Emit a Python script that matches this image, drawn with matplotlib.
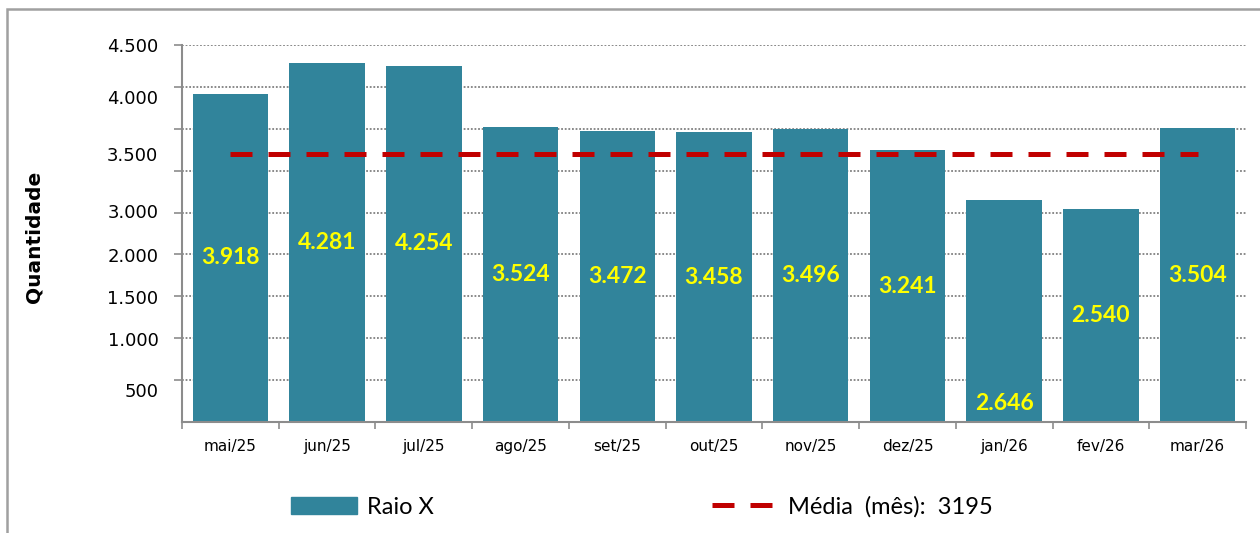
import matplotlib
matplotlib.use("Agg")
import matplotlib.pyplot as plt
from matplotlib.patches import Patch, Rectangle
from matplotlib.lines import Line2D

# ─── data ─────────────────────────────────────────────────────────────────────
months = ["mai/25", "jun/25", "jul/25", "ago/25", "set/25", "out/25",
          "nov/25", "dez/25", "jan/26", "fev/26", "mar/26"]
raio_x = [3918, 4281, 4254, 3524, 3472, 3458, 3496, 3241, 2646, 2540, 3504]
media = 3195

# y tick labels as they sit in the original (not aligned to the grid)
ytick_labels = ["500", "1.000", "1.500", "2.000", "3.000", "3.500", "4.000", "4.500"]
ytick_pos = [382, 991, 1492, 1993, 2519, 3199, 3879, 4500]
grid_vals = list(range(500, 4501, 500))

TEAL = "#31849B"
RED = "#C00000"
GRAY = "#8C8C8C"

fig = plt.figure(figsize=(12.6, 5.33), dpi=100)
ax = fig.add_axes([182/1260, 1 - 422/533, (1246-182)/1260, (422-45)/533])

x = range(len(months))
ax.bar(x, raio_x, width=0.78, color=TEAL, zorder=2)
ax.plot(x, [media]*len(months), color=RED, lw=3.6, ls=(0, (4.4, 3.2)), zorder=3)

# value labels, centred in bar (jan/26 sits at the base in the original)
label_override = {8: 215}
for i, v in enumerate(raio_x):
    yy = label_override.get(i, v / 2)
    ax.text(i, yy, f"{v:,}".replace(",", "."), ha="center", va="center",
            color="#FFFF00", fontsize=16.5, fontweight="bold", family="Lato", zorder=4)

ax.set_xlim(-0.5, len(months) - 0.5)
ax.set_ylim(0, 4500)

for g in grid_vals:
    ax.axhline(g, color="#808080", lw=1.3, ls=(0, (1, 1)), zorder=1)

ax.yaxis.remove_overlapping_locs = False
ax.set_yticks(grid_vals)
ax.set_yticklabels([])
ax.tick_params(axis="y", which="major", length=6, width=1.2, color=GRAY)
ax.set_yticks(ytick_pos, minor=True)
ax.set_yticklabels(ytick_labels, minor=True, fontsize=13)
ax.tick_params(axis="y", which="minor", length=0, pad=17)

ax.set_xticks(list(x))
ax.set_xticklabels(months, fontsize=11)
ax.tick_params(axis="x", which="major", length=0, pad=12)
ax.set_xticks([i - 0.5 for i in range(len(months) + 1)], minor=True)
ax.tick_params(axis="x", which="minor", length=5, width=1.2, color=GRAY)

for s in ["top", "right"]:
    ax.spines[s].set_visible(False)
for s in ["left", "bottom"]:
    ax.spines[s].set_color(GRAY)
    ax.spines[s].set_linewidth(1.5)

fig.text(34/1260, 1 - 237/533, "Quantidade", rotation=90, ha="center", va="center",
         fontsize=14.5, fontweight="bold")

# legend
handles = [Patch(color=TEAL), Line2D([0], [0], color=RED, lw=3.6, ls=(0, (4.4, 3.2)))]
fig.legend(handles, ["Raio X", "Média  (mês):  3195"], loc="center left",
           bbox_to_anchor=(291/1260, 1 - 507/533), ncol=2, frameon=False,
           borderpad=0, borderaxespad=0, handlelength=2.8, handleheight=0.7,
           handletextpad=0.4, columnspacing=11.8,
           prop={"family": "Lato", "size": 17})

# outer frame (left and top edges visible)
fig.add_artist(Rectangle((7/1260, -0.1), 1.2, (533-9)/533 + 0.1, transform=fig.transFigure,
                         fill=False, ec="#A0A0A0", lw=1.8))

fig.savefig("out.png", dpi=100)
